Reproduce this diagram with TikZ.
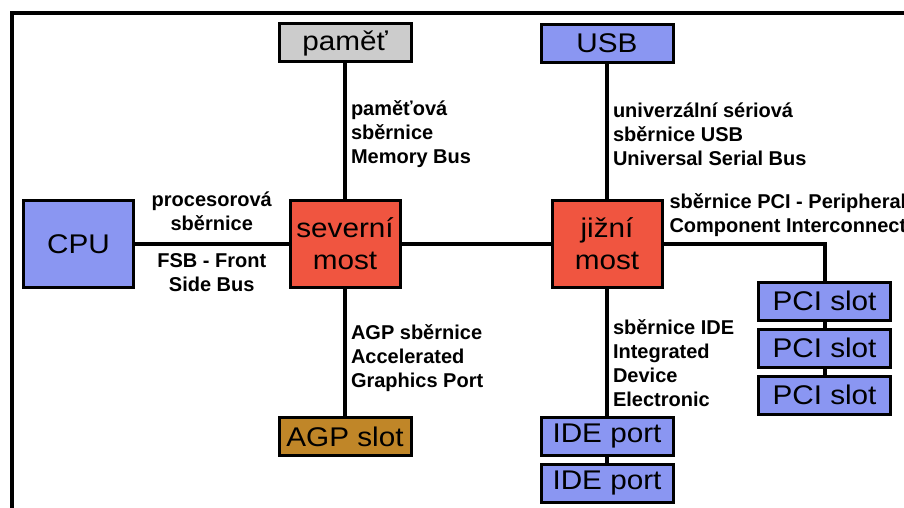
\documentclass[tikz,border=0pt]{standalone}
\usepackage{fontspec}
\setmainfont{Liberation Sans}
\newfontfamily\boxfont[FakeStretch=1.1]{Liberation Sans}
\usetikzlibrary{positioning}
\definecolor{chipblue}{RGB}{138,150,242}
\definecolor{chipred}{RGB}{240,85,64}
\definecolor{chipbrown}{RGB}{192,134,40}
\definecolor{chipgray}{RGB}{204,204,204}
\tikzstyle{part}=[draw=black, line width=3pt, inner sep=0pt, align=center, font=\boxfont\fontsize{27}{32}\selectfont]
\tikzstyle{slot}=[part, minimum width=132pt, minimum height=38pt]
\tikzstyle{chip}=[part, minimum width=110pt, minimum height=87pt, fill=chipred]
\tikzstyle{bus}=[line width=4pt]
\tikzstyle{buslabel}=[font=\bfseries\fontsize{20}{24}\selectfont, align=left, inner xsep=4pt, inner ysep=0pt]

\begin{document}
\begin{tikzpicture}[x=1pt,y=-1pt]
  \useasboundingbox (0,0) rectangle (904,508);
  \draw[line width=4pt] (904,13) -- (12,13) -- (12,508);

  \node[chip, fill=chipblue] (cpu) at (78.5,244) {CPU};
  \node[chip] (north) at (345,244) {severní\\most};
  \node[chip] (south) at (607,244) {jižní\\most};

  \node[slot, fill=chipgray] (mem) at (345,43) {paměť};
  \node[slot, fill=chipblue] (usb) at (607,43.5) {USB};
  \node[slot, fill=chipbrown] (agp) at (345,436.5) {AGP slot};

  \node[slot, fill=chipblue] (ide1) at (607,436.5) {IDE port};
  \node[slot, fill=chipblue, below = 6pt of ide1] (ide2) {IDE port};

  \node[slot, fill=chipblue] (pci1) at (824.5,301) {PCI slot};
  \node[slot, fill=chipblue, below = 6pt of pci1] (pci2) {PCI slot};
  \node[slot, fill=chipblue, below = 6pt of pci2] (pci3) {PCI slot};

  \draw[bus] (cpu) -- node[buslabel, align=center, above=11pt] {procesorová\\sběrnice}
    node[buslabel, align=center, below=8pt] {FSB - Front\\Side Bus} (north);
  \draw[bus] (north) -- (south);
  \draw[bus] (mem) -- node[buslabel, right, yshift=-3pt] {paměťová\\sběrnice\\Memory Bus} (north);
  \draw[bus] (north) -- node[buslabel, right, yshift=-5.5pt] {AGP sběrnice\\Accelerated\\Graphics Port} (agp);
  \draw[bus] (usb) -- node[buslabel, right, yshift=-3pt] {univerzální sériová\\sběrnice USB\\Universal Serial Bus} (south);
  \draw[bus] (south) -- node[buslabel, right, yshift=-11pt] {sběrnice IDE\\Integrated\\Device\\Electronic} (ide1);
  \draw[bus] (ide1) -- (ide2);
  \draw[bus] (south.east) -| node[buslabel, pos=0, above right=5pt and 0pt] {sběrnice PCI - Peripheral\\Component Interconnect} (pci1);
  \draw[bus] (pci1) -- (pci2);
  \draw[bus] (pci2) -- (pci3);
\end{tikzpicture}
\end{document}
